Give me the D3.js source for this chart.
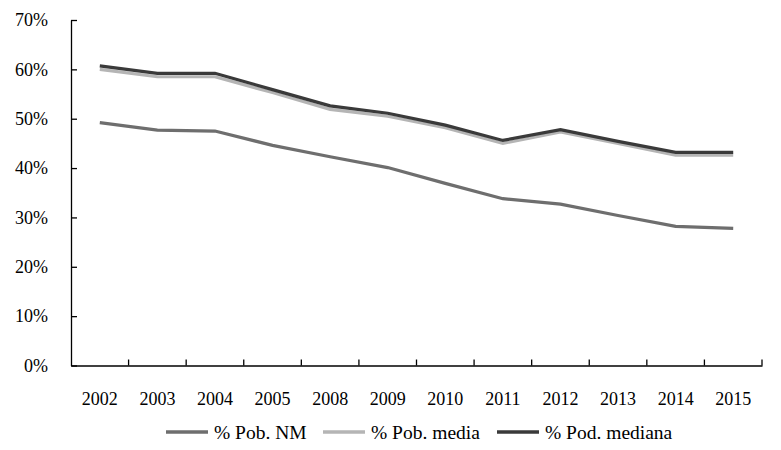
<!DOCTYPE html>
<html>
<head>
<meta charset="utf-8">
<script src="https://cdn.jsdelivr.net/npm/d3@7"></script>
<style>
  body { margin: 0; background: #fff; }
  text { font-family: "Liberation Serif", "Times New Roman", serif; fill: #000; }
</style>
</head>
<body>
<script>
// categories and series values (share of population, %)
var years = ["2002", "2003", "2004", "2005", "2008", "2009", "2010", "2011", "2012", "2013", "2014", "2015"];
var pobNM = [49.2, 47.7, 47.5, 44.6, 42.3, 40.1, 36.9, 33.8, 32.7, 30.4, 28.2, 27.8];
var pobMedia = [60.0, 58.5, 58.5, 55.3, 51.9, 50.5, 48.2, 45.0, 47.3, 45.0, 42.6, 42.6];
var podMediana = [60.7, 59.2, 59.2, 55.9, 52.6, 51.1, 48.7, 45.6, 47.8, 45.4, 43.2, 43.2];
var yTicks = [0, 10, 20, 30, 40, 50, 60, 70];
var seriesNames = ["% Pob. NM", "% Pob. media", "% Pod. mediana"];

window.onload = drawChart();

function drawChart() {
    var width = 781,
    height = 450;

    var svg = d3.select("body")
    .append("svg")
    .attr("width", width)
    .attr("height", height);

    var x = d3.scaleBand()
    .domain(years)
    .range([71, 762])
    .padding(0);

    var y = d3.scaleLinear()
    .domain([0, 70])
    .range([365.5, 20]);

    var colors = ["#6e6e6e", "#b5b5b5", "#3a3a3a"];
    var series = [pobNM, pobMedia, podMediana];

    //y axis, ticks point inward
    var yAxis = d3.axisLeft(y)
    .tickValues(yTicks)
    .tickSize(-6)
    .tickSizeOuter(0)
    .tickPadding(23)
    .tickFormat(function(d){ return d + "%"; });

    var gy = svg.append("g")
    .attr("transform", "translate(71,0)")
    .call(yAxis);
    gy.selectAll("path, line").attr("stroke", "#000").attr("stroke-width", 1.3);
    gy.selectAll("text").style("font-size", "18px");

    //x axis: labels centered on bands, ticks on band edges
    var xAxis = d3.axisBottom(x)
    .tickSize(0)
    .tickSizeOuter(0)
    .tickPadding(27);

    var gx = svg.append("g")
    .attr("transform", "translate(0," + y(0) + ")")
    .call(xAxis);
    gx.select(".domain").attr("stroke", "#000").attr("stroke-width", 1.3);
    gx.selectAll("text").style("font-size", "18px");

    gx.selectAll(".edge")
    .data(years)
    .enter()
    .append("line")
    .attr("class", "edge")
    .attr("x1", function(d){ return x(d) + x.bandwidth(); })
    .attr("x2", function(d){ return x(d) + x.bandwidth(); })
    .attr("y1", 0)
    .attr("y2", -6)
    .attr("stroke", "#000")
    .attr("stroke-width", 1.3);

    var line = d3.line()
    .x(function(d, i){ return x(years[i]) + x.bandwidth() / 2; })
    .y(function(d){ return y(d); });

    svg.selectAll(".serie")
    .data(series)
    .enter()
    .append("path")
    .attr("class", "serie")
    .attr("d", line)
    .attr("fill", "none")
    .attr("stroke", function(d, i){ return colors[i]; })
    .attr("stroke-width", 3.2);

    //legend
    var legendX = [166, 323, 497];
    var legend = svg.selectAll(".legend")
    .data(seriesNames)
    .enter()
    .append("g")
    .attr("class", "legend")
    .attr("transform", function(d, i){ return "translate(" + legendX[i] + ",432)"; });

    legend.append("line")
    .attr("x1", 0)
    .attr("x2", 42)
    .attr("stroke", function(d, i){ return colors[i]; })
    .attr("stroke-width", 3.5);

    legend.append("text")
    .attr("x", 48)
    .attr("y", 6.5)
    .style("font-size", "19.5px")
    .text(function(d){ return d; });
};
</script>
</body>
</html>
